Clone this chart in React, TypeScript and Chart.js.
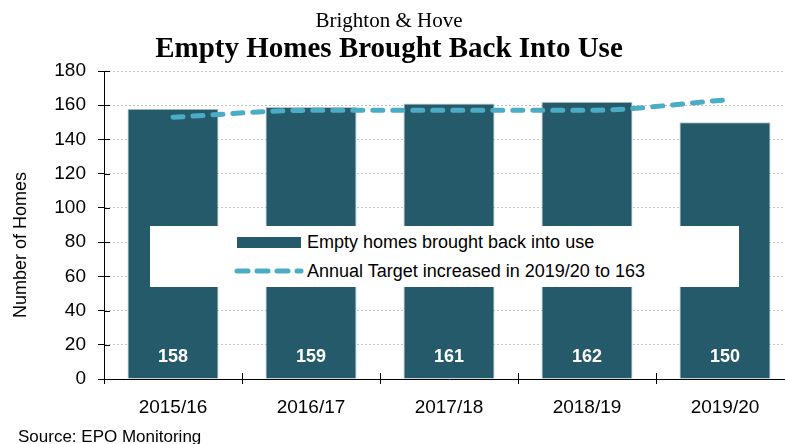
import React, { useEffect, useRef } from "react";
import { Chart, registerables } from "chart.js";

Chart.register(...registerables);

const categories = ["2015/16", "2016/17", "2017/18", "2018/19", "2019/20"];
const homesBroughtBack = [158, 159, 161, 162, 150];
const annualTarget = [153, 157, 157, 157, 163];
const yMin = 0;
const yMax = 180;
const yStep = 20;

const barLabel = "Empty homes brought back into use";
const lineLabel = "Annual Target increased in 2019/20 to 163";
const titleTop = "Brighton & Hove";
const titleMain = "Empty Homes Brought Back Into Use";
const yAxisTitle = "Number of Homes";
const sourceText = "Source: EPO Monitoring";

const BAR_COLOR = "#245a69";
const LINE_COLOR = "#4bacc6";
const SANS = "'Liberation Sans', Arial, sans-serif";
const SERIF = "'Liberation Serif', 'Times New Roman', serif";

const barValueLabels = {
  id: "barValueLabels",
  afterDatasetsDraw(chart: any) {
    const meta = chart.getDatasetMeta(1);
    const ctx = chart.ctx;
    ctx.save();
    ctx.fillStyle = "#ffffff";
    ctx.font = `bold 18px ${SANS}`;
    ctx.textAlign = "center";
    ctx.textBaseline = "middle";
    meta.data.forEach((el: any, i: number) => {
      ctx.fillText(String(homesBroughtBack[i]), el.x, chart.chartArea.bottom - 22);
    });
    ctx.restore();
  },
};

const innerTicks = {
  id: "innerTicks",
  afterDraw(chart: any) {
    const ctx = chart.ctx;
    const ya = chart.scales.y;
    const xa = chart.scales.x;
    const area = chart.chartArea;
    ctx.save();
    ctx.strokeStyle = "#000";
    ctx.lineWidth = 1;
    ctx.setLineDash([]);
    ctx.beginPath();
    ya.ticks.forEach((t: any) => {
      const y = Math.round(ya.getPixelForValue(t.value)) + 0.5;
      ctx.moveTo(area.left, y);
      ctx.lineTo(area.left + 6, y);
    });
    for (let i = 0; i <= categories.length; i++) {
      const x = Math.round(xa.getPixelForValue(i - 0.5)) + 0.5;
      ctx.moveTo(x, area.bottom);
      ctx.lineTo(x, area.bottom - 6);
    }
    ctx.stroke();
    ctx.restore();
  },
};

function ChartCanvas() {
  const ref = useRef<HTMLCanvasElement | null>(null);
  useEffect(() => {
    if (!ref.current) return;
    const chart = new Chart(ref.current, {
      type: "bar",
      data: {
        labels: categories,
        datasets: [
          {
            type: "line",
            label: lineLabel,
            data: annualTarget,
            borderColor: LINE_COLOR,
            backgroundColor: LINE_COLOR,
            borderWidth: 5,
            borderDash: [10, 10],
            borderCapStyle: "round",
            cubicInterpolationMode: "monotone",
            pointRadius: 0,
            fill: false,
            order: 0,
          } as any,
          {
            type: "bar",
            label: barLabel,
            data: homesBroughtBack,
            backgroundColor: BAR_COLOR,
            borderColor: "#b9c7cc",
            borderWidth: 1,
            barPercentage: 0.66,
            categoryPercentage: 1,
            order: 1,
          } as any,
        ],
      },
      options: {
        animation: false,
        responsive: false,
        maintainAspectRatio: false,
        layout: { padding: { top: 71, right: 6, left: 0, bottom: 0 } },
        plugins: {
          legend: { display: false },
          title: { display: false },
          tooltip: { enabled: false },
        },
        scales: {
          x: {
            offset: true,
            afterFit: (s: any) => {
              s.height = 65;
            },
            grid: {
              offset: true,
              drawOnChartArea: false,
              drawTicks: true,
              tickLength: 5,
              tickColor: "#000",
            },
            border: { display: true, color: "#000", width: 1 },
            ticks: {
              color: "#000",
              font: { family: SANS, size: 19 },
              padding: 12,
              maxRotation: 0,
            },
          },
          y: {
            min: yMin,
            max: yMax,
            afterFit: (s: any) => {
              s.width = 104;
            },
            grid: {
              color: "#c4c4c4",
              lineWidth: 1,
              drawTicks: true,
              tickLength: 6,
              tickColor: "#000",
              tickBorderDash: [],
            },
            border: { display: true, color: "#000", width: 1, dash: [2, 2] },
            ticks: {
              stepSize: yStep,
              color: "#000",
              font: { family: SANS, size: 19 },
              padding: 12,
            },
          },
        },
      } as any,
      plugins: [barValueLabels, innerTicks],
    });
    return () => chart.destroy();
  }, []);
  return (
    <canvas
      ref={ref}
      width={800}
      height={444}
      style={{ position: "absolute", left: 0, top: 0, width: 800, height: 444 }}
    />
  );
}

export default function App() {
  return (
    <div
      style={{
        position: "fixed",
        left: 0,
        top: 0,
        width: 785,
        height: 444,
        overflow: "hidden",
        background: "#fff",
      }}
    >
      <ChartCanvas />
      <div
        style={{
          position: "absolute",
          left: 0,
          width: 778,
          top: 7,
          textAlign: "center",
          fontFamily: SERIF,
          fontSize: 21,
          lineHeight: "26px",
          color: "#000",
        }}
      >
        {titleTop}
      </div>
      <div
        style={{
          position: "absolute",
          left: 0,
          width: 778,
          top: 30,
          textAlign: "center",
          fontFamily: SERIF,
          fontSize: 29,
          fontWeight: "bold",
          lineHeight: "34px",
          color: "#000",
        }}
      >
        {titleMain}
      </div>
      <div
        style={{
          position: "absolute",
          left: 20 - 100,
          top: 245 - 12,
          width: 200,
          height: 24,
          lineHeight: "24px",
          textAlign: "center",
          transform: "rotate(-90deg)",
          fontFamily: SANS,
          fontSize: 18,
          color: "#000",
          whiteSpace: "nowrap",
        }}
      >
        {yAxisTitle}
      </div>
      <div
        style={{
          position: "absolute",
          left: 150,
          top: 226,
          width: 589,
          height: 61,
          background: "#fff",
        }}
      >
        <div
          style={{
            position: "absolute",
            left: 87,
            top: 11,
            width: 64,
            height: 11,
            background: BAR_COLOR,
          }}
        />
        <div
          style={{
            position: "absolute",
            left: 157,
            top: 5,
            lineHeight: "22px",
            fontFamily: SANS,
            fontSize: 18,
            color: "#000",
            whiteSpace: "nowrap",
          }}
        >
          {barLabel}
        </div>
        <svg
          width={72}
          height={12}
          style={{ position: "absolute", left: 82, top: 39 }}
        >
          <line
            x1={5}
            y1={6}
            x2={69}
            y2={6}
            stroke={LINE_COLOR}
            strokeWidth={5}
            strokeLinecap="round"
            strokeDasharray="11 9"
          />
        </svg>
        <div
          style={{
            position: "absolute",
            left: 157,
            top: 34,
            lineHeight: "22px",
            fontFamily: SANS,
            fontSize: 18,
            color: "#000",
            whiteSpace: "nowrap",
          }}
        >
          {lineLabel}
        </div>
      </div>
      <div
        style={{
          position: "absolute",
          left: 18,
          top: 426,
          lineHeight: "22px",
          fontFamily: SANS,
          fontSize: 17,
          color: "#000",
          whiteSpace: "nowrap",
        }}
      >
        {sourceText}
      </div>
    </div>
  );
}
